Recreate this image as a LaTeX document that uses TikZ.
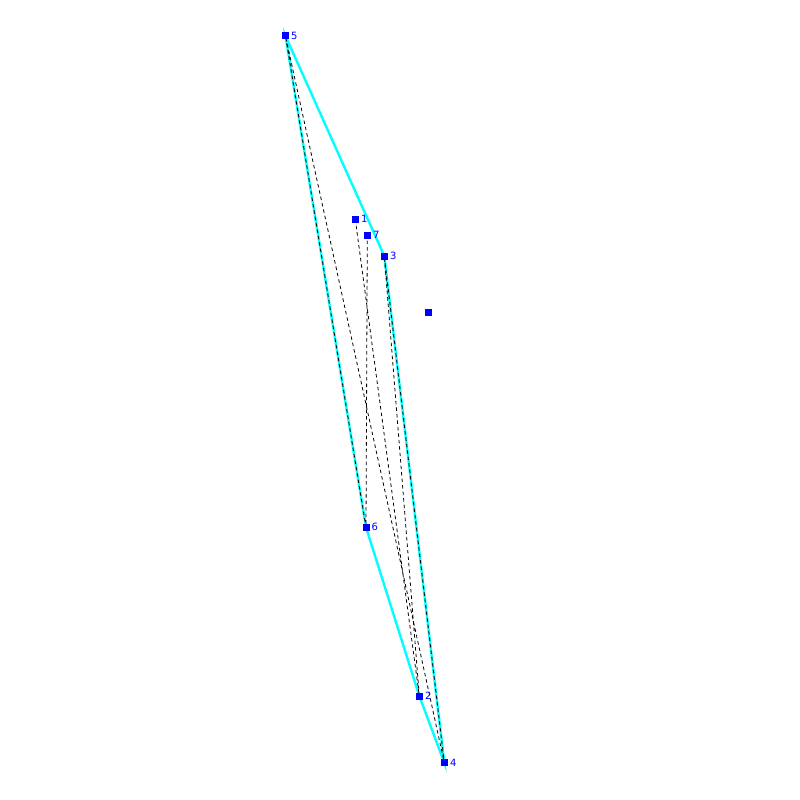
\documentclass[tikz,border=0pt]{standalone}
\usepackage{fontspec}
\setmainfont{DejaVu Sans}
\definecolor{hullcyan}{RGB}{0,255,255}
\definecolor{ptblue}{RGB}{0,0,255}
\begin{document}
\begin{tikzpicture}[x=1pt,y=-1pt,
  pt/.style={fill=ptblue,draw=none,minimum size=7pt,inner sep=0pt,outer sep=0pt,rectangle},
  lbl/.style={text=ptblue,font=\fontsize{10}{11}\selectfont,inner sep=0pt,anchor=west,xshift=5.5pt},
  hull/.style={draw=hullcyan,line width=2.4pt},
  tour/.style={draw=black,line width=0.8pt,dash pattern=on 3.5pt off 3pt}]
\useasboundingbox (0,0) rectangle (800,800);
\coordinate (p1) at (355.3,219.3);
\coordinate (p2) at (419.3,696);
\coordinate (p3) at (384.3,256);
\coordinate (p4) at (444.3,762.7);
\coordinate (p5) at (285.5,36);
\coordinate (p6) at (366,527.3);
\coordinate (p7) at (367.3,235.2);
\coordinate (p0) at (428.3,312.3);
\draw[hull] (p5) -- (p3) -- (p4) -- (p2) -- (p6) -- cycle;
\draw[tour] (p1) -- (p2) -- (p3) -- (p4) -- (p5) -- (p6) -- (p7);
\foreach \n in {0,1,2,3,4,5,6,7} {\node[pt] (s\n) at (p\n) {};}
\foreach \n in {1,2,3,4,5,6,7} {\node[lbl] (l\n) at (p\n) {\n};}
\end{tikzpicture}
\end{document}
